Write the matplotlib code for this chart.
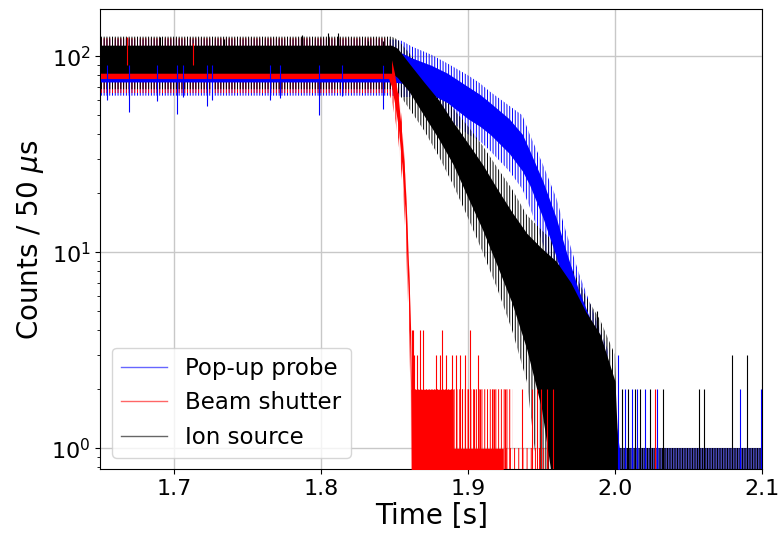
import numpy as np
import matplotlib
matplotlib.use("Agg")
import matplotlib.pyplot as plt
from matplotlib.lines import Line2D

# ---- counts per 50 us bin: dense core and full noise envelope of each trace ----
series_names = ["Pop-up probe", "Beam shutter", "Ion source"]
series_colors = ["#0000ff", "#ff0000", "#000000"]

# Pop-up probe
probe_t = [1.65, 1.848, 1.855, 1.862, 1.875, 1.886, 1.900, 1.908, 1.915, 1.928,
           1.937, 1.942, 1.951, 1.960, 1.967, 1.975, 1.985, 1.995, 2.003]
probe_lo = [74, 74, 73, 74, 64, 58, 48, 44, 40, 32, 26, 22, 15, 9.5, 6.3, 3.8, 2.1, 1.0, 0.5]
probe_hi = [104, 104, 104, 98, 90, 82, 70, 64, 58, 48, 40, 33, 23, 15, 10, 6.5, 4.2, 2.6, 1.0]
probe_env_lo = [63, 63, 62, 62, 52, 48, 40, 37, 33, 26, 21, 17, 11, 7, 4.8, 2.8, 1.5, 0.5, 0.5]
probe_env_hi = [122, 122, 120, 112, 102, 92, 80, 73, 66, 56, 50, 40, 28, 19, 12.5, 8, 5, 3.2, 1.0]

# Beam shutter
shutter_t = [1.65, 1.846, 1.848, 1.850, 1.8525, 1.855, 1.857, 1.8585, 1.860, 1.861,
             1.8615, 1.890, 1.8901, 1.924]
shutter_lo = [77, 77, 70, 58, 44, 28, 17, 9, 4.5, 2, 0.5, 0.5, 0.5, 0.5]
shutter_hi = [106, 106, 96, 82, 62, 40, 25, 14, 7, 4, 2, 2, 1, 1]
shutter_env_t = [1.65, 1.846, 1.848, 1.850, 1.8525, 1.855, 1.857, 1.8585, 1.860, 1.861,
                 1.8615, 1.930]
shutter_env_lo = [65, 65, 60, 50, 38, 24, 14.5, 7.5, 3.8, 1.7, 0.5, 0.5]
shutter_env_hi = [124, 124, 110, 95, 72, 47, 29, 16.5, 8.2, 4.6, 2, 2]

# Ion source
source_t = [1.65, 1.848, 1.852, 1.860, 1.870, 1.880, 1.890, 1.900, 1.910, 1.920,
            1.930, 1.940, 1.950, 1.960, 1.970, 1.980, 1.990, 2.000, 2.002]
source_lo = [82, 82, 78, 66, 50, 38, 28, 19, 13, 8.5, 5.5, 3.2, 1.6, 0.5, 0.5, 0.5, 0.5, 0.5, 0.5]
source_hi = [114, 114, 110, 92, 74, 60, 46, 36, 28, 21, 16, 12.5, 10.5, 9.0, 7.0, 5.0, 3.8, 2.2, 1.0]
source_env_lo = [68, 68, 66, 54, 42, 31, 22, 15, 10, 6.5, 4, 2.2, 0.5, 0.5, 0.5, 0.5, 0.5, 0.5, 0.5]
source_env_hi = [126, 126, 122, 104, 84, 68, 54, 44, 35, 27, 21, 15.5, 13, 11, 8.5, 6.0, 4.5, 3, 1.0]

# spans where the trace flickers between 0 and 1 count (start, end) [s]
probe_zero_span = (2.000, 2.100)
shutter_zero_span = (1.924, 1.968)
source_zero_span = (2.000, 2.100)

# isolated bins (time [s], counts)
probe_spike_t = [1.6542, 1.6693, 1.6882, 1.7018, 1.7063, 1.7222, 1.7261, 1.7653, 1.7721,
                 1.7989, 1.8140, 1.8422,
                 2.0022, 2.0068, 2.0114, 2.0148, 2.0204, 2.0284, 2.0850, 2.0993]
probe_spike_n = [60, 52, 59, 51, 62, 56, 60, 60, 61, 50, 63, 54,
                 3, 2, 2, 2, 2, 2, 2, 2]
shutter_spike_t = [1.6678, 1.7128,
                   1.8617, 1.8628, 1.8673, 1.8694, 1.8821, 1.9014,
                   1.8630, 1.8650, 1.8780, 1.8810, 1.8850, 1.8890, 1.8920, 1.8945, 1.8980, 1.9070,
                   1.8960, 1.9000, 1.9040, 1.9080, 1.9160, 1.9180, 1.9250, 1.9370, 1.9435,
                   1.9470, 1.9500, 1.9540, 1.9580, 2.0272]
shutter_spike_n = [125, 117,
                   4, 4, 4, 4, 4, 4,
                   3, 3, 3, 3, 3, 3, 3, 3, 3, 3,
                   2, 2, 2, 2, 2, 2, 2, 2, 2, 2, 2, 2, 2, 2]
source_spike_t = [1.6905, 1.7340, 1.7869, 1.8048, 1.8114, 1.8320, 1.8422,
                  1.9875, 2.0046, 2.0091, 2.0136, 2.0170, 2.0238, 2.0324, 2.0573, 2.0605,
                  2.0798, 2.0900]
source_spike_n = [125, 122, 128, 131, 131, 120, 120,
                  5, 2, 2, 2, 2, 2, 2, 2, 2, 3, 3]

x_ticks = [1.7, 1.8, 1.9, 2.0, 2.1]

plt.rcParams["hatch.linewidth"] = 0.7

fig = plt.figure(figsize=(7.82, 5.36), dpi=100)
ax = fig.add_axes([0.1285, 0.1244, 0.8459, 0.8582])
ax.set_yscale("log")

c_probe, c_shutter, c_source = series_colors
hatch = "||||||"

# noise envelopes, drawn as fine vertical strokes
for t, lo, hi, c, z in [(probe_t, probe_env_lo, probe_env_hi, c_probe, 2.0),
                        (shutter_env_t, shutter_env_lo, shutter_env_hi, c_shutter, 2.1),
                        (source_t, source_env_lo, source_env_hi, c_source, 2.2)]:
    ax.fill_between(t, lo, hi, facecolor="none", edgecolor=c, hatch=hatch, lw=0, zorder=z)

# 0/1-count flicker at the bottom of the log axis
ax.fill_between(probe_zero_span, 0.5, 1, color=c_probe, alpha=0.6, lw=0, zorder=2.3)
ax.fill_between(shutter_zero_span, 0.5, 1, facecolor="none", edgecolor=c_shutter,
                hatch="||||", lw=0, zorder=2.4)
ax.fill_between(source_zero_span, 0.5, 1, facecolor="none", edgecolor=c_source,
                hatch="||||||||||", lw=0, zorder=2.5)

# dense cores
ax.fill_between(probe_t, probe_lo, probe_hi, color=c_probe, lw=0, zorder=3)
st = np.array(shutter_t)
ax.fill_between(st, shutter_lo, shutter_hi, where=st <= 1.848, color=c_shutter, lw=0, zorder=3.2)
ax.fill_between(source_t, source_lo, source_hi, color=c_source, lw=0, zorder=3.5)
ax.fill_between(st, shutter_lo, shutter_hi, where=st >= 1.848, color=c_shutter, lw=0, zorder=4)

# single bins: plateau bins are drawn from the plateau level, tail bins from zero
plateau = 90.0
for t, n, c in [(probe_spike_t, probe_spike_n, c_probe),
                (shutter_spike_t, shutter_spike_n, c_shutter),
                (source_spike_t, source_spike_n, c_source)]:
    n = np.asarray(n, dtype=float)
    base = np.where(n > 20, plateau, 0.5)
    ax.vlines(t, np.minimum(base, n), np.maximum(base, n), color=c, lw=0.8, zorder=4.2)

ax.set_xlim(1.65, 2.1)
ax.set_ylim(0.781, 173.7)
ax.set_xticks(x_ticks)
ax.set_xticklabels([f"{v:.1f}" for v in x_ticks])
ax.tick_params(axis="both", which="major", labelsize=16)
ax.grid(True, which="major", color="#c8c8c8", lw=1.0)
ax.set_axisbelow(True)
ax.set_xlabel("Time [s]", fontsize=20, labelpad=2)
ax.set_ylabel(r"Counts / 50 $\mu$s", fontsize=20)

handles = [Line2D([], [], color=c, lw=1.0, alpha=0.6) for c in series_colors]
ax.legend(handles, series_names, loc="lower left", fontsize=16.5, framealpha=0.8)

fig.savefig("out.png", dpi=100)
